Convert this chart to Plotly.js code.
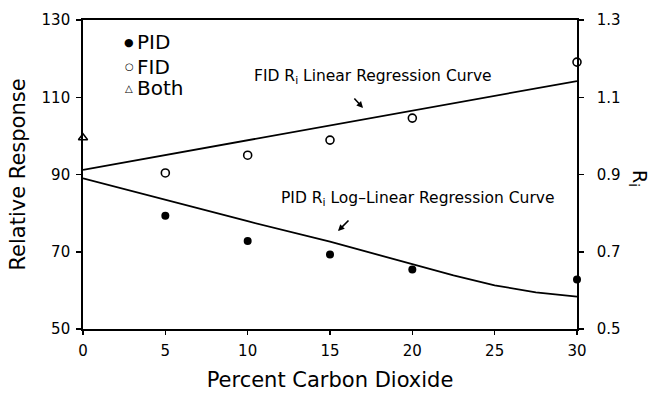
<!DOCTYPE html>
<html>
<head>
<meta charset="utf-8">
<script src="https://cdn.plot.ly/plotly-3.0.1.min.js"></script>
<style>html,body{margin:0;padding:0;background:#fff;}#chart{width:652px;height:394px;}</style>
</head>
<body>
<div id="chart"></div>
<script>
// ---- data ----
const xTickVals = [0, 5, 10, 15, 20, 25, 30];
const yTickVals = [50, 70, 90, 110, 130];
const y2TickVals = [0.5, 0.7, 0.9, 1.1, 1.3];
const y2TickText = ["0.5", "0.7", "0.9", "1.1", "1.3"];

const pidX = [5, 10, 15, 20, 30];
const pidY = [79.3, 72.8, 69.3, 65.4, 62.8];

const fidX = [5, 10, 15, 20, 30];
const fidY = [90.4, 95.0, 98.9, 104.6, 119.1];

const bothX = [0];
const bothY = [99.5];

const fidLineX = [0, 30];
const fidLineY = [91.2, 114.2];

const pidCurveX = [0, 5, 10, 15, 20, 22.5, 25, 27.5, 30];
const pidCurveY = [89.0, 83.4, 77.9, 72.6, 66.8, 63.9, 61.3, 59.5, 58.4];

const legendLabels = ["PID", "FID", "Both"];
const legendSymbols = ["\u25CF", "\u25CB", "\u25B3"];

// ---- layout helpers (pixel -> paper) ----
const W = 652, H = 394, L = 83, R = 75, T = 20, B = 65;
const PW = W - L - R, PH = H - T - B;
const px = v => (v - L) / PW;
const py = v => (H - B - v) / PH;

const FONT = "DejaVu Sans, Liberation Sans, sans-serif";

const traces = [
  {x: fidLineX, y: fidLineY, mode: "lines", line: {color: "#000", width: 1.8}, hoverinfo: "skip", cliponaxis: false},
  {x: pidCurveX, y: pidCurveY, mode: "lines", line: {color: "#000", width: 1.8, shape: "linear"}, hoverinfo: "skip", cliponaxis: false},
  {x: pidX, y: pidY, mode: "markers", name: "PID", marker: {symbol: "circle", size: 8, color: "#000"}, cliponaxis: false},
  {x: fidX, y: fidY, mode: "markers", name: "FID", marker: {symbol: "circle-open", size: 8, color: "#000", line: {width: 1.6}}, cliponaxis: false},
  {x: bothX, y: bothY, mode: "markers", name: "Both", marker: {symbol: "triangle-up-open", size: 8, color: "#000", line: {width: 1.5}}, cliponaxis: false}
];

const annotations = [];
// legend
const legY = [42.5, 66.5, 88.5];
legendLabels.forEach((lab, i) => {
  annotations.push({xref: "paper", yref: "paper", x: px(129), y: py(legY[i]), text: legendSymbols[i],
    showarrow: false, xanchor: "center", yanchor: "middle", font: {family: FONT, size: i === 0 ? 11 : 10, color: "#000"}});
  annotations.push({xref: "paper", yref: "paper", x: px(135), y: py(legY[i]), text: lab,
    showarrow: false, xanchor: "left", yanchor: "middle", font: {family: FONT, size: 20, color: "#000"}});
});
// curve labels
annotations.push({xref: "paper", yref: "paper", x: px(373), y: py(77), text: "FID R<sub>i</sub> Linear Regression Curve",
  showarrow: false, xanchor: "center", yanchor: "middle", font: {family: FONT, size: 15.5, color: "#000"}});
annotations.push({xref: "paper", yref: "paper", x: px(417), y: py(199), text: "PID R<sub>i</sub> Log\u2013Linear Regression Curve",
  showarrow: false, xanchor: "center", yanchor: "middle", font: {family: FONT, size: 15.5, color: "#000"}});
// arrows
annotations.push({xref: "paper", yref: "paper", x: px(363), y: py(108), ax: -10, ay: -11, text: "",
  showarrow: true, arrowhead: 2, arrowsize: 0.8, arrowwidth: 1.6, arrowcolor: "#000"});
annotations.push({xref: "paper", yref: "paper", x: px(338), y: py(231), ax: 12, ay: -12, text: "",
  showarrow: true, arrowhead: 2, arrowsize: 0.8, arrowwidth: 1.6, arrowcolor: "#000"});
// right axis title
annotations.push({xref: "paper", yref: "paper", x: px(638), y: py(178), text: "R<sub>i</sub>", textangle: 90,
  showarrow: false, xanchor: "center", yanchor: "middle", font: {family: FONT, size: 19, color: "#000"}});

const layout = {
  width: W, height: H,
  margin: {l: L, r: R, t: T, b: B, pad: 0},
  paper_bgcolor: "#fff", plot_bgcolor: "#fff",
  showlegend: false,
  font: {family: FONT, color: "#000"},
  xaxis: {
    range: [0, 30], tickvals: xTickVals, ticks: "outside", ticklen: 4, tickwidth: 1.5, tickcolor: "#000",
    showline: true, linecolor: "#000", linewidth: 1.8, mirror: true, showgrid: false, zeroline: false,
    tickfont: {family: FONT, size: 15, color: "#000"}, ticklabelstandoff: 3,
    title: {text: "Percent Carbon Dioxide", font: {family: FONT, size: 21, color: "#000"}, standoff: 13},
    automargin: false
  },
  yaxis: {
    range: [50, 130], tickvals: yTickVals, ticks: "outside", ticklen: 5, tickwidth: 1.5, tickcolor: "#000",
    showline: true, linecolor: "#000", linewidth: 1.8, showgrid: false, zeroline: false,
    tickfont: {family: FONT, size: 15, color: "#000"}, ticklabelstandoff: 3,
    title: {text: "Relative Response", font: {family: FONT, size: 21, color: "#000"}, standoff: 10},
    automargin: false
  },
  yaxis2: {
    overlaying: "y", side: "right", range: [0.5, 1.3], tickvals: y2TickVals, ticktext: y2TickText,
    ticks: "outside", ticklen: 5, tickwidth: 1.5, tickcolor: "#000",
    showline: true, linecolor: "#000", linewidth: 1.8, showgrid: false, zeroline: false,
    tickfont: {family: FONT, size: 15, color: "#000"}, ticklabelstandoff: 10,
    automargin: false
  },
  annotations: annotations
};

// invisible trace to activate yaxis2
traces.push({x: [], y: [], yaxis: "y2", mode: "markers", hoverinfo: "skip", showlegend: false});

Plotly.newPlot("chart", traces, layout, {displayModeBar: false, staticPlot: true});
</script>
</body>
</html>
